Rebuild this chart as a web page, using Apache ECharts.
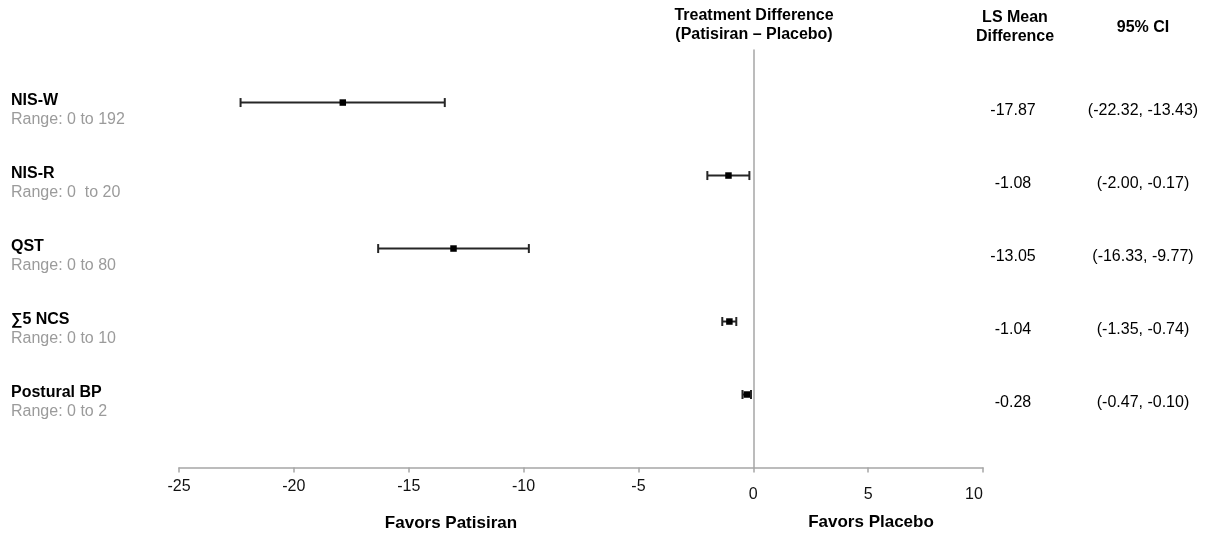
<!DOCTYPE html>
<html>
<head>
<meta charset="utf-8">
<script src="https://cdn.jsdelivr.net/npm/echarts@6/dist/echarts.min.js"></script>
<style>
  html, body { margin: 0; padding: 0; background: #fff; }
  #chart { width: 1211px; height: 536px; }
</style>
</head>
<body>
<div id="chart"></div>
<script>
// ---------- data ----------
const measures = ['NIS-W', 'NIS-R', 'QST', '\u22115 NCS', 'Postural BP'];
const ranges = ['Range: 0 to 192', 'Range: 0  to 20', 'Range: 0 to 80', 'Range: 0 to 10', 'Range: 0 to 2'];
const lsMean = [-17.87, -1.08, -13.05, -1.04, -0.28];
const ciLower = [-22.32, -2.00, -16.33, -1.35, -0.47];
const ciUpper = [-13.43, -0.17, -9.77, -0.74, -0.10];
const xTicks = [-25, -20, -15, -10, -5, 0, 5, 10];

// ---------- build ----------
const FONT = '"Liberation Sans", Arial, Helvetica, sans-serif';
const n = measures.length;
const rows = measures.map((m, i) => [lsMean[i], ciLower[i], ciUpper[i], n - i]);

const chart = echarts.init(document.getElementById('chart'), null, { renderer: 'canvas' });

const option = {
  backgroundColor: '#ffffff',
  animation: false,
  textStyle: { fontFamily: FONT },
  grid: { left: 179, right: 228, top: 50, bottom: 68.5, containLabel: false },
  xAxis: {
    type: 'value',
    min: xTicks[0],
    max: xTicks[xTicks.length - 1],
    interval: 5,
    axisLine: { show: true, onZero: false, lineStyle: { color: '#a6a6a6', width: 1.5 } },
    axisTick: { show: true, length: 5, lineStyle: { color: '#a6a6a6', width: 1.5 } },
    splitLine: { show: false },
    axisLabel: {
      margin: 11,
      fontSize: 16,
      color: '#111',
      fontFamily: FONT,
      formatter: function (v) {
        if (v === 10) return '{c|' + v + '}';
        if (v >= 0) return '{b|' + v + '}';
        return '{a|' + v + '}';
      },
      rich: {
        a: { fontSize: 16, color: '#111', fontFamily: FONT },
        b: { fontSize: 16, color: '#111', fontFamily: FONT, padding: [8, 0, 0, 0] },
        c: { fontSize: 16, color: '#111', fontFamily: FONT, padding: [8, 18, 0, 0] }
      }
    }
  },
  yAxis: {
    type: 'value',
    min: 0,
    max: 5.72,
    axisLine: { show: true, onZero: true, lineStyle: { color: '#a6a6a6', width: 1.5 } },
    axisTick: { show: false },
    axisLabel: { show: false },
    splitLine: { show: false }
  },
  graphic: [
    { type: 'text', x: 754, y: 16, style: { text: 'Treatment Difference', font: 'bold 16px ' + FONT, fill: '#000', align: 'center', verticalAlign: 'middle' } },
    { type: 'text', x: 754, y: 35, style: { text: '(Patisiran \u2013 Placebo)', font: 'bold 16px ' + FONT, fill: '#000', align: 'center', verticalAlign: 'middle' } },
    { type: 'text', x: 1015, y: 18, style: { text: 'LS Mean', font: 'bold 16px ' + FONT, fill: '#000', align: 'center', verticalAlign: 'middle' } },
    { type: 'text', x: 1015, y: 37, style: { text: 'Difference', font: 'bold 16px ' + FONT, fill: '#000', align: 'center', verticalAlign: 'middle' } },
    { type: 'text', x: 1143, y: 28, style: { text: '95% CI', font: 'bold 16px ' + FONT, fill: '#000', align: 'center', verticalAlign: 'middle' } },
    { type: 'text', x: 451, y: 523, style: { text: 'Favors Patisiran', font: 'bold 17px ' + FONT, fill: '#000', align: 'center', verticalAlign: 'middle' } },
    { type: 'text', x: 871, y: 522, style: { text: 'Favors Placebo', font: 'bold 17px ' + FONT, fill: '#000', align: 'center', verticalAlign: 'middle' } }
  ],
  series: [
    {
      type: 'custom',
      name: 'CI',
      clip: false,
      data: rows,
      renderItem: function (params, api) {
        const pos = api.value(3);
        const c = api.coord([api.value(0), pos]);
        const lo = api.coord([api.value(1), pos]);
        const hi = api.coord([api.value(2), pos]);
        const capH = 4.5;
        const sq = 6.5;
        const stroke = { stroke: '#262626', lineWidth: 2 };
        return {
          type: 'group',
          children: [
            { type: 'line', shape: { x1: lo[0], y1: lo[1], x2: hi[0], y2: hi[1] }, style: stroke },
            { type: 'line', shape: { x1: lo[0], y1: lo[1] - capH, x2: lo[0], y2: lo[1] + capH }, style: stroke },
            { type: 'line', shape: { x1: hi[0], y1: hi[1] - capH, x2: hi[0], y2: hi[1] + capH }, style: stroke },
            { type: 'rect', shape: { x: c[0] - sq / 2, y: c[1] - sq / 2, width: sq, height: sq }, style: { fill: '#000' } }
          ]
        };
      }
    },
    {
      type: 'custom',
      name: 'labels',
      clip: false,
      silent: true,
      data: rows,
      renderItem: function (params, api) {
        const i = params.dataIndex;
        const p = api.coord([0, api.value(3)]);
        const y = p[1];
        const lsTxt = lsMean[i].toFixed(2);
        const ciTxt = '(' + ciLower[i].toFixed(2) + ', ' + ciUpper[i].toFixed(2) + ')';
        return {
          type: 'group',
          children: [
            { type: 'text', x: 11, y: y - 1.5, style: { text: measures[i], font: 'bold 16px ' + FONT, fill: '#000', align: 'left', verticalAlign: 'middle' } },
            { type: 'text', x: 11, y: y + 17.5, style: { text: ranges[i], font: '16px ' + FONT, fill: '#9b9b9b', align: 'left', verticalAlign: 'middle' } },
            { type: 'text', x: 1013, y: y + 8.5, style: { text: lsTxt, font: '16px ' + FONT, fill: '#000', align: 'center', verticalAlign: 'middle' } },
            { type: 'text', x: 1143, y: y + 8.5, style: { text: ciTxt, font: '16px ' + FONT, fill: '#000', align: 'center', verticalAlign: 'middle' } }
          ]
        };
      }
    }
  ]
};

chart.setOption(option);
</script>
</body>
</html>
